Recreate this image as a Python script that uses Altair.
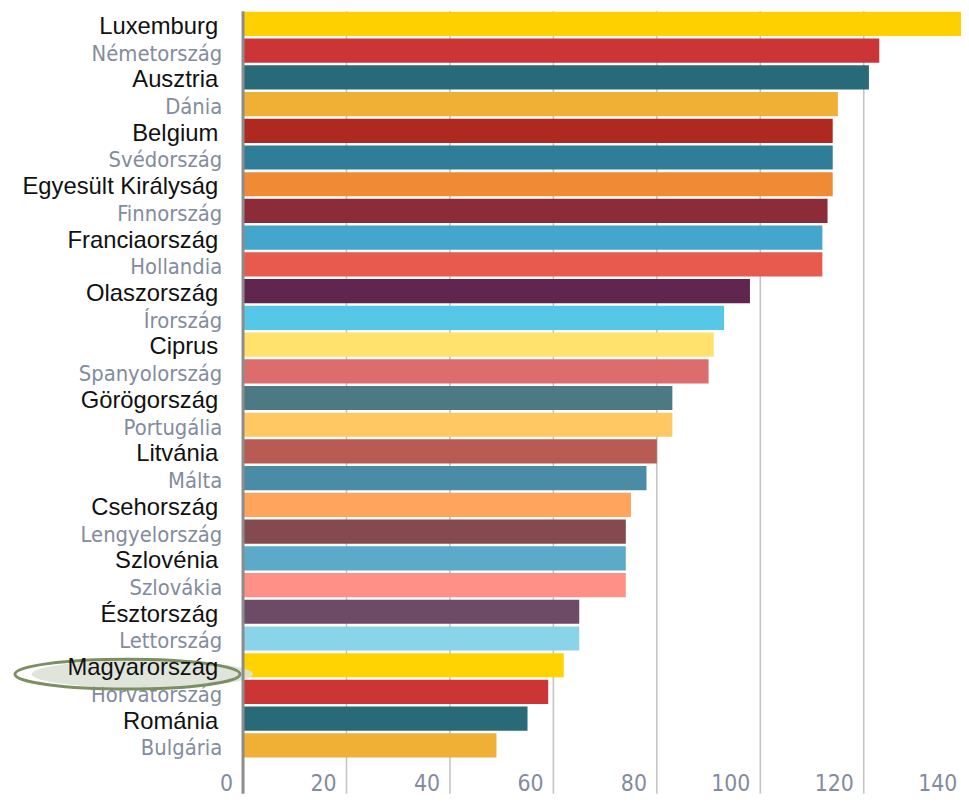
import altair as alt
import pandas as pd

countries = ["Luxemburg", "Németország", "Ausztria", "Dánia", "Belgium", "Svédország",
             "Egyesült Királyság", "Finnország", "Franciaország", "Hollandia", "Olaszország",
             "Írország", "Ciprus", "Spanyolország", "Görögország", "Portugália", "Litvánia",
             "Málta", "Csehország", "Lengyelország", "Szlovénia", "Szlovákia", "Észtország",
             "Lettország", "Magyarország", "Horvátország", "Románia", "Bulgária"]
values = [140, 123, 121, 115, 114, 114, 114, 113, 112, 112, 98, 93, 91, 90, 83, 83, 80,
          78, 75, 74, 74, 74, 65, 65, 62, 59, 55, 49]
colors = ["#FFD000", "#CC3535", "#286A78", "#F0B035", "#AE2A20", "#2F7D99", "#F08A35",
          "#8B2C38", "#44A6CC", "#E8594E", "#60264E", "#55C8E8", "#FFE26E", "#DB6E6C",
          "#4C7983", "#FFC862", "#B85B52", "#4A8CA6", "#FFA45C", "#854A50", "#5BAAC8",
          "#FF9088", "#6D4A66", "#8AD4EA", "#FFD300", "#CC3535", "#286A78", "#F0B035"]
ticks = [0, 20, 40, 60, 80, 100, 120, 140]
highlight = ["Magyarország"]

df = pd.DataFrame({"country": countries, "value": values, "color": colors})
df["style"] = ["black" if i % 2 == 0 else "gray" for i in range(len(df))]
black_df = df[df["style"] == "black"]
gray_df = df[df["style"] == "gray"]
hl_df = pd.DataFrame({"country": highlight})
tick_df = pd.DataFrame({"t": ticks, "label": [str(t) for t in ticks]})

W, H = 724, 753
BOTTOM = 36
GRAY_TXT = "#838c9e"
NARROW = "DejaVu Sans Condensed, Liberation Sans Narrow, sans-serif"

xscale = alt.Scale(domain=[0, 138.8], nice=False, zero=True)
yscale = alt.Scale(domain=countries, paddingInner=0.095, paddingOuter=0.02)
yenc = alt.Y("country:N", scale=yscale, axis=None, sort=None)

grid = alt.Chart(tick_df[tick_df["t"] > 0]).mark_rule(
    color="#c4c4c4", strokeWidth=1.6
).encode(
    x=alt.X("t:Q", scale=xscale, axis=None),
    y=alt.value(0), y2=alt.value(H + BOTTOM),
)

bars = alt.Chart(df).mark_bar(clip=True).encode(
    x=alt.X("value:Q", scale=xscale, axis=None),
    y=yenc,
    color=alt.Color("color:N", scale=None, legend=None),
)

tick_labels = alt.Chart(tick_df).mark_text(
    align="right", baseline="middle", dx=-10, font=NARROW, fontSize=23, color=GRAY_TXT
).encode(
    x=alt.X("t:Q", scale=xscale, axis=None),
    y=alt.value(H + 26),
    text="label:N",
)

gray_text = alt.Chart(gray_df).mark_text(
    align="right", baseline="middle", dx=-21, dy=3, font=NARROW, fontSize=22, color=GRAY_TXT
).encode(y=yenc, x=alt.value(0), text="country:N")


def ellipse_path(r):
    k = 0.5523
    rk = round(r * k, 4)
    return (f"M-1,0C-1,-{rk},-{k},-{r},0,-{r}C{k},-{r},1,-{rk},1,0"
            f"C1,{rk},{k},{r},0,{r}C-{k},{r},-1,{rk},-1,0Z")


ellipse_fill = alt.Chart(hl_df).mark_point(
    shape=ellipse_path(0.125), size=223 ** 2, filled=True, fill="#dde2d7",
    fillOpacity=0.9, strokeWidth=0, opacity=1, xOffset=-101.5, yOffset=9
).encode(y=yenc, x=alt.value(0))

axis_line = alt.Chart(pd.DataFrame({"a": [0]})).mark_rule(
    color="#8c8c8c", strokeWidth=3
).encode(x=alt.value(0), y=alt.value(0), y2=alt.value(H + BOTTOM))

ellipse_stroke = alt.Chart(hl_df).mark_point(
    shape=ellipse_path(0.132), size=227 ** 2, filled=False, fill="transparent",
    stroke="#7b8f63", strokeWidth=3, strokeOpacity=1, opacity=1,
    xOffset=-116.5, yOffset=9
).encode(y=yenc, x=alt.value(0))

black_text = alt.Chart(black_df).mark_text(
    align="right", baseline="middle", dx=-25, dy=3, font="Liberation Sans, Arial, sans-serif",
    fontSize=24, color="#111111"
).encode(y=yenc, x=alt.value(0), text="country:N")

chart = alt.layer(
    grid, bars, tick_labels, gray_text, ellipse_fill, axis_line, ellipse_stroke, black_text
).properties(
    width=W, height=H,
    autosize=alt.AutoSizeParams(type="none"),
    padding={"left": 237, "top": 0, "right": 0, "bottom": BOTTOM},
    background="white",
).configure_view(stroke=None)

chart.save("out.html", embed_options={"renderer": "svg", "actions": False})
